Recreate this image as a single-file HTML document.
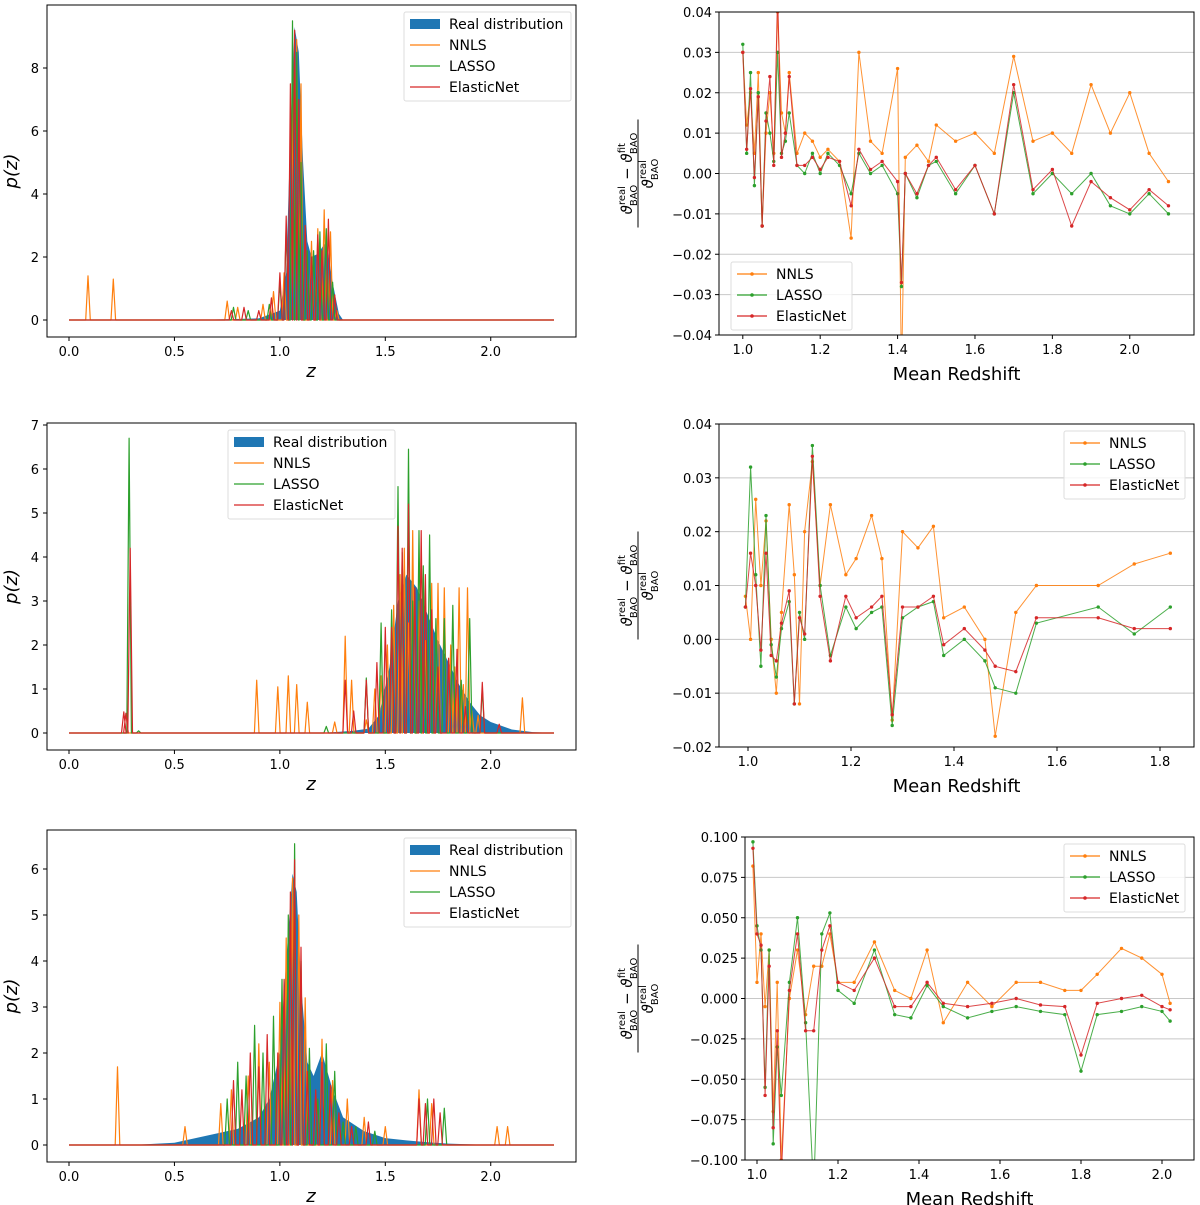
<!DOCTYPE html>
<html><head><meta charset="utf-8"><style>
html,body{margin:0;padding:0;background:#fff}
svg{display:block;font-family:"DejaVu Sans","Liberation Sans",sans-serif}
</style></head><body>
<svg id="fig" width="1200" height="1205" viewBox="0 0 1200 1205" xmlns="http://www.w3.org/2000/svg"></svg>
<script>
// ---------- data: left panels (redshift distributions) ----------
const realZ1 = [0,0.6,0.9,1.0,1.03,1.05,1.07,1.09,1.11,1.13,1.15,1.18,1.2,1.22,1.25,1.28,1.3,2.3];
const realP1 = [0,0,0.05,0.3,1.5,6,9.3,8.5,5,2.5,2.0,2.1,2.3,2.5,1.2,0.2,0,0];
const nnlsZ1 = [0.09,0.21,0.75,0.8,0.92,0.97,1.02,1.06,1.08,1.1,1.15,1.18,1.21,1.24,1.27];
const nnlsP1 = [1.4,1.3,0.6,0.4,0.5,0.9,1.5,7.0,8.9,7.5,2.5,2.9,3.5,2.8,0.3];
const lassoZ1 = [0.78,0.85,0.95,1.0,1.03,1.06,1.08,1.1,1.13,1.16,1.19,1.22,1.25];
const lassoP1 = [0.4,0.3,0.5,1.2,3.0,9.5,8.5,5.0,2.2,2.2,2.8,2.9,1.2];
const enetZ1 = [0.77,0.83,0.9,0.96,1.0,1.03,1.05,1.07,1.09,1.12,1.15,1.18,1.2,1.23,1.26];
const enetP1 = [0.3,0.4,0.3,0.7,1.5,3.3,7.5,9.2,7.0,3.0,2.0,2.7,2.2,3.2,0.8];

const realZ2 = [0,1.2,1.35,1.42,1.47,1.52,1.56,1.6,1.65,1.7,1.75,1.8,1.85,1.9,1.95,2.0,2.1,2.2,2.3];
const realP2 = [0,0,0.05,0.1,0.4,1.5,3.0,3.6,3.3,2.7,2.1,1.6,1.1,0.7,0.4,0.25,0.08,0.02,0];
const nnlsZ2 = [0.89,0.99,1.04,1.08,1.13,1.26,1.31,1.34,1.41,1.45,1.48,1.51,1.54,1.57,1.59,1.61,1.63,1.66,1.69,1.72,1.75,1.78,1.81,1.83,1.85,1.87,1.89,1.91,1.94,2.15];
const nnlsP2 = [1.2,1.05,1.3,1.1,0.7,0.25,2.2,1.2,0.3,1.0,1.3,2.0,2.9,3.6,4.2,2.5,4.6,3.0,2.1,3.4,3.4,3.3,2.0,1.5,3.3,1.1,3.3,0.5,0.4,0.8];
const lassoZ2 = [0.285,0.33,1.22,1.41,1.48,1.53,1.56,1.58,1.61,1.63,1.66,1.68,1.71,1.74,1.78,1.82,1.86,1.9,1.96];
const lassoP2 = [6.7,0.05,0.15,1.25,2.5,2.8,5.6,4.1,6.45,3.0,4.6,3.8,4.5,2.6,2.6,2.9,1.2,2.6,1.0];
const enetZ2 = [0.26,0.27,0.29,1.31,1.35,1.41,1.46,1.5,1.53,1.56,1.58,1.61,1.64,1.67,1.69,1.72,1.75,1.8,1.84,1.88,1.96,2.04];
const enetP2 = [0.48,0.45,4.2,1.2,0.5,1.2,1.6,2.4,2.4,4.7,4.2,5.2,3.3,4.6,3.6,2.8,1.5,1.7,1.9,0.6,1.15,0.2];

const realZ3 = [0,0.3,0.5,0.6,0.7,0.8,0.9,0.95,1.0,1.03,1.06,1.08,1.1,1.13,1.16,1.2,1.25,1.3,1.4,1.5,1.6,1.7,1.8,2.0,2.3];
const realP3 = [0,0,0.05,0.15,0.25,0.35,0.6,1.0,2.0,4.0,5.9,5.5,3.5,1.8,1.5,2.0,1.2,0.6,0.3,0.15,0.1,0.06,0.03,0,0];
const nnlsZ3 = [0.23,0.55,0.72,0.77,0.85,0.9,0.95,1.0,1.03,1.06,1.09,1.12,1.2,1.25,1.32,1.4,1.5,1.66,1.72,2.03,2.08];
const nnlsP3 = [1.7,0.4,0.9,1.2,1.5,2.2,1.8,3.1,4.5,5.8,5.0,3.2,2.3,1.4,1.0,0.6,0.4,1.2,0.9,0.4,0.4];
const lassoZ3 = [0.75,0.8,0.84,0.88,0.92,0.97,1.01,1.04,1.07,1.1,1.14,1.18,1.22,1.26,1.3,1.36,1.45,1.7,1.78];
const lassoP3 = [1.0,1.8,1.5,2.6,2.0,2.8,3.6,5.0,6.55,4.0,2.1,1.0,2.2,1.6,0.5,0.4,0.3,1.0,0.8];
const enetZ3 = [0.78,0.82,0.86,0.9,0.94,0.99,1.02,1.05,1.07,1.1,1.13,1.17,1.2,1.24,1.28,1.34,1.42,1.66,1.69,1.73,1.76];
const enetP3 = [1.4,1.2,2.0,1.7,2.4,2.0,3.6,5.5,6.2,4.3,1.6,1.2,1.8,1.3,0.7,0.4,0.5,1.0,0.9,1.0,0.7];

// ---------- data: right panels (BAO residuals) ----------
const redA = [1.00,1.01,1.02,1.03,1.04,1.05,1.06,1.07,1.08,1.09,1.10,1.11,1.12,1.14,1.16,1.18,1.20,1.22,1.25,1.28,1.30,1.33,1.36,1.40,1.41,1.42,1.45,1.48,1.50,1.55,1.60,1.65,1.70,1.75,1.80,1.85,1.90,1.95,2.00,2.05,2.10];
const nnlsA = [0.03,0.012,0.02,0.005,0.025,-0.013,0.01,0.02,0.005,0.04,0.015,0.01,0.025,0.005,0.01,0.008,0.004,0.006,0.003,-0.016,0.03,0.008,0.005,0.026,-0.05,0.004,0.007,0.003,0.012,0.008,0.01,0.005,0.029,0.008,0.01,0.005,0.022,0.01,0.02,0.005,-0.002];
const lassoA = [0.032,0.005,0.025,-0.003,0.02,-0.013,0.015,0.01,0.003,0.03,0.005,0.008,0.015,0.002,0.0,0.005,0.0,0.005,0.002,-0.005,0.005,0.0,0.002,-0.005,-0.028,0.0,-0.006,0.002,0.003,-0.005,0.002,-0.01,0.02,-0.005,0.0,-0.005,0.0,-0.008,-0.01,-0.005,-0.01];
const enetA = [0.03,0.006,0.021,-0.001,0.019,-0.013,0.013,0.024,0.002,0.045,0.004,0.01,0.024,0.002,0.002,0.004,0.001,0.004,0.003,-0.008,0.006,0.001,0.003,-0.002,-0.027,0.0,-0.005,0.002,0.004,-0.004,0.002,-0.01,0.022,-0.004,0.001,-0.013,-0.002,-0.006,-0.009,-0.004,-0.008];

const redB = [0.995,1.005,1.015,1.025,1.035,1.045,1.055,1.065,1.08,1.09,1.10,1.11,1.125,1.14,1.16,1.19,1.21,1.24,1.26,1.28,1.30,1.33,1.36,1.38,1.42,1.46,1.48,1.52,1.56,1.68,1.75,1.82];
const nnlsB = [0.008,0.0,0.026,0.01,0.022,0.0,-0.01,0.005,0.025,0.012,-0.012,0.02,0.033,0.01,0.025,0.012,0.015,0.023,0.015,-0.015,0.02,0.017,0.021,0.004,0.006,0.0,-0.018,0.005,0.01,0.01,0.014,0.016];
const lassoB = [0.006,0.032,0.012,-0.005,0.023,-0.001,-0.007,0.002,0.007,-0.012,0.005,0.0,0.036,0.01,-0.003,0.006,0.002,0.005,0.006,-0.016,0.004,0.006,0.007,-0.003,0.0,-0.004,-0.009,-0.01,0.003,0.006,0.001,0.006];
const enetB = [0.006,0.016,0.01,-0.002,0.016,-0.003,-0.004,0.003,0.009,-0.012,0.004,0.001,0.034,0.008,-0.004,0.008,0.004,0.006,0.008,-0.014,0.006,0.006,0.008,-0.001,0.002,-0.002,-0.005,-0.006,0.004,0.004,0.002,0.002];

const redC = [0.99,1.0,1.01,1.02,1.03,1.04,1.05,1.06,1.08,1.1,1.12,1.14,1.16,1.18,1.2,1.24,1.29,1.34,1.38,1.42,1.46,1.52,1.58,1.64,1.7,1.76,1.8,1.84,1.9,1.95,2.0,2.02];
const nnlsC = [0.082,0.01,0.04,-0.005,0.03,-0.07,0.01,-0.1,0.0,0.03,-0.01,0.02,0.02,0.04,0.01,0.01,0.035,0.005,0.0,0.03,-0.015,0.01,-0.005,0.01,0.01,0.005,0.005,0.015,0.031,0.025,0.015,-0.003];
const lassoC = [0.097,0.045,0.03,-0.055,0.03,-0.09,-0.03,-0.06,0.01,0.05,-0.015,-0.12,0.04,0.053,0.005,-0.003,0.03,-0.01,-0.012,0.008,-0.005,-0.012,-0.008,-0.005,-0.008,-0.01,-0.045,-0.01,-0.008,-0.005,-0.008,-0.014];
const enetC = [0.093,0.04,0.033,-0.06,0.02,-0.08,-0.02,-0.11,0.005,0.04,-0.02,-0.02,0.03,0.045,0.01,0.005,0.025,-0.005,-0.005,0.01,-0.003,-0.005,-0.003,0.0,-0.004,-0.005,-0.035,-0.003,0.0,0.002,-0.005,-0.007];

const zTicks = [0.0,0.5,1.0,1.5,2.0];
const zTickLabels = ["0.0","0.5","1.0","1.5","2.0"];

// ---------- rendering ----------
const NS = "http://www.w3.org/2000/svg";
const svg = document.getElementById('fig');
const C = {blue:"#1f77b4", orange:"#ff7f0e", green:"#2ca02c", red:"#d62728"};
function mk(parent, tag, attrs, name) {
  const el = document.createElementNS(NS, tag);
  for (const k in attrs) el.setAttribute(k, attrs[k]);
  
  
  parent.appendChild(el);
  return el;
}
function txt(parent, x, y, s, size, anchor, name, extra) {
  const t = mk(parent, 'text', Object.assign({x:x, y:y, 'font-size':size, 'text-anchor':anchor||'middle', fill:'#000'}, extra||{}), name);
  t.textContent = s;
  return t;
}
function scale(d0, d1, r0, r1) { return v => r0 + (v - d0) * (r1 - r0) / (d1 - d0); }

function spikesPath(zs, ps, sx, sy) {
  const hw = 0.011;
  let pts = [[0, 0]];
  for (let i = 0; i < zs.length; i++) {
    pts.push([zs[i] - hw, 0], [zs[i], ps[i]], [zs[i] + hw, 0]);
  }
  pts.push([2.3, 0]);
  return pts.map((p, i) => (i ? 'L' : 'M') + sx(p[0]).toFixed(1) + ',' + sy(p[1]).toFixed(1)).join('');
}

function legend(g, x, y, w, items, name) {
  const h = items.length * 21 + 5;
  mk(g, 'rect', {x:x, y:y, width:w, height:h, fill:'#fff', 'fill-opacity':0.8, stroke:'#ddd', 'stroke-width':1, rx:2}, name);
  items.forEach((it, i) => {
    const cy = y + 12 + i * 21;
    if (it.patch) mk(g, 'rect', {x:x + 6, y:cy - 5, width:30, height:10, fill:it.color}, 'legend-patch-' + it.key);
    else {
      mk(g, 'line', {x1:x + 6, x2:x + 36, y1:cy, y2:cy, stroke:it.color, 'stroke-width':1.3}, 'legend-line-' + it.key);
      if (it.marker) mk(g, 'circle', {cx:x + 21, cy:cy, r:1.8, fill:it.color}, 'legend-marker-' + it.key);
    }
    txt(g, x + 45, cy + 5, it.label, 14, 'start', 'legend-label-' + it.key);
  });
}

function leftPanel(idx, box, yMax, yTicks, realZ, realP, series, leg) {
  const g = mk(svg, 'g', {}, 'pz-panel-' + idx);
  const sx = scale(0, 2.3, 69, 554);
  const sy = scale(0, yMax, box.y0, box.y1);
  // real area
  let d = 'M' + sx(realZ[0]) + ',' + sy(0);
  realZ.forEach((z, i) => d += 'L' + sx(z).toFixed(1) + ',' + sy(realP[i]).toFixed(1));
  d += 'L' + sx(realZ[realZ.length - 1]) + ',' + sy(0) + 'Z';
  mk(g, 'path', {d:d, fill:C.blue}, 'real-distribution-area');
  series.forEach(s => {
    mk(g, 'path', {d:spikesPath(s.z, s.p, sx, sy), fill:'none', stroke:s.color, 'stroke-width':1.2, 'stroke-linejoin':'round'}, s.key + '-line');
  });
  mk(g, 'rect', {x:box.x0, y:box.top, width:box.x1 - box.x0, height:box.bottom - box.top, fill:'none', stroke:'#000', 'stroke-width':1}, 'axes-frame');
  zTicks.forEach((t, i) => {
    mk(g, 'line', {x1:sx(t), x2:sx(t), y1:box.bottom, y2:box.bottom + 4, stroke:'#000'}, 'x-tick');
    txt(g, sx(t), box.bottom + 19, zTickLabels[i], 13, 'middle', 'x-tick-label');
  });
  yTicks.forEach(t => {
    mk(g, 'line', {x1:box.x0 - 4, x2:box.x0, y1:sy(t), y2:sy(t), stroke:'#000'}, 'y-tick');
    txt(g, box.x0 - 8, sy(t) + 5, String(t), 13, 'end', 'y-tick-label');
  });
  txt(g, 311, box.bottom + 40, 'z', 18, 'middle', 'x-axis-title', {'font-style':'italic'});
  const yl = txt(g, 0, 0, 'p(z)', 18, 'middle', 'y-axis-title', {'font-style':'italic', transform:'translate(17,' + ((box.top + box.bottom) / 2) + ') rotate(-90)'});
  legend(g, leg.x, leg.y, 167, [
    {key:'real', label:'Real distribution', color:C.blue, patch:true},
    {key:'nnls', label:'NNLS', color:C.orange},
    {key:'lasso', label:'LASSO', color:C.green},
    {key:'elasticnet', label:'ElasticNet', color:C.red}], 'legend');
}

function ylabelFrac(g, x, cy) {
  const gg = mk(g, 'g', {transform:'translate(' + x + ',' + cy + ') rotate(-90)'}, 'y-axis-title');
  const num = mk(gg, 'text', {x:0, y:-6, 'font-size':15, 'text-anchor':'middle', 'font-style':'italic'}, 'y-title-numerator');
  num.innerHTML = 'ϑ<tspan font-size="10" dy="-7" font-style="normal">real</tspan><tspan font-size="10" dx="-20" dy="12" font-style="normal">BAO</tspan><tspan dy="-5"> − ϑ</tspan><tspan font-size="10" dy="-7" font-style="normal">fit</tspan><tspan font-size="10" dx="-11" dy="12" font-style="normal">BAO</tspan>';
  mk(gg, 'line', {x1:-54, x2:54, y1:0, y2:0, stroke:'#000', 'stroke-width':1}, 'y-title-fraction-bar');
  const den = mk(gg, 'text', {x:0, y:15, 'font-size':15, 'text-anchor':'middle', 'font-style':'italic'}, 'y-title-denominator');
  den.innerHTML = 'ϑ<tspan font-size="10" dy="-7" font-style="normal">real</tspan><tspan font-size="10" dx="-20" dy="12" font-style="normal">BAO</tspan>';
}

function rightPanel(idx, box, xd, yd, xTicks, yTicks, yFmt, xs, series, leg) {
  const g = mk(svg, 'g', {}, 'bao-panel-' + idx);
  const sx = scale(xd[0], xd[1], box.x0, box.x1);
  const sy = scale(yd[0], yd[1], box.bottom, box.top);
  yTicks.forEach(t => {
    mk(g, 'line', {x1:box.x0, x2:box.x1, y1:sy(t), y2:sy(t), stroke:'#c8c8c8', 'stroke-width':1}, 'grid-line');
  });
  const clip = mk(g, 'clipPath', {id:'clip' + idx}, 'clip');
  mk(clip, 'rect', {x:box.x0, y:box.top, width:box.x1 - box.x0, height:box.bottom - box.top}, 'clip-rect');
  const pg = mk(g, 'g', {'clip-path':'url(#clip' + idx + ')'}, 'plot-area');
  series.forEach(s => {
    const d = xs.map((x, i) => (i ? 'L' : 'M') + sx(x).toFixed(1) + ',' + sy(s.v[i]).toFixed(1)).join('');
    mk(pg, 'path', {d:d, fill:'none', stroke:s.color, 'stroke-width':1, 'stroke-opacity':0.85}, s.key + '-line');
    xs.forEach((x, i) => mk(pg, 'circle', {cx:sx(x), cy:sy(s.v[i]), r:1.7, fill:s.color}, s.key + '-point'));
  });
  mk(g, 'rect', {x:box.x0, y:box.top, width:box.x1 - box.x0, height:box.bottom - box.top, fill:'none', stroke:'#000', 'stroke-width':1}, 'axes-frame');
  xTicks.forEach(t => {
    mk(g, 'line', {x1:sx(t), x2:sx(t), y1:box.bottom, y2:box.bottom + 4, stroke:'#000'}, 'x-tick');
    txt(g, sx(t), box.bottom + 19, t.toFixed(1), 13, 'middle', 'x-tick-label');
  });
  yTicks.forEach(t => {
    mk(g, 'line', {x1:box.x0 - 4, x2:box.x0, y1:sy(t), y2:sy(t), stroke:'#000'}, 'y-tick');
    txt(g, box.x0 - 7, sy(t) + 5, (t < 0 ? '−' : '') + Math.abs(t).toFixed(yFmt), 13, 'end', 'y-tick-label');
  });
  txt(g, (box.x0 + box.x1) / 2, box.bottom + 45, 'Mean Redshift', 18, 'middle', 'x-axis-title');
  ylabelFrac(g, box.ylx, (box.top + box.bottom) / 2);
  legend(g, leg.x, leg.y, 121, [
    {key:'nnls', label:'NNLS', color:C.orange, marker:true},
    {key:'lasso', label:'LASSO', color:C.green, marker:true},
    {key:'elasticnet', label:'ElasticNet', color:C.red, marker:true}], 'legend');
}

leftPanel(1, {x0:47, x1:576, top:5, bottom:337, y0:320, y1:257 - (320 - 257) * 0 - 0 + 0}, 2, [0,2,4,6,8], realZ1, realP1,
  [{key:'nnls', z:nnlsZ1, p:nnlsP1, color:C.orange}, {key:'lasso', z:lassoZ1, p:lassoP1, color:C.green}, {key:'elasticnet', z:enetZ1, p:enetP1, color:C.red}],
  {x:404, y:12});
leftPanel(2, {x0:47, x1:576, top:423, bottom:750, y0:733, y1:645}, 2, [0,1,2,3,4,5,6,7], realZ2, realP2,
  [{key:'nnls', z:nnlsZ2, p:nnlsP2, color:C.orange}, {key:'lasso', z:lassoZ2, p:lassoP2, color:C.green}, {key:'elasticnet', z:enetZ2, p:enetP2, color:C.red}],
  {x:228, y:430});
leftPanel(3, {x0:47, x1:576, top:830, bottom:1162, y0:1145, y1:1053}, 2, [0,1,2,3,4,5,6], realZ3, realP3,
  [{key:'nnls', z:nnlsZ3, p:nnlsP3, color:C.orange}, {key:'lasso', z:lassoZ3, p:lassoP3, color:C.green}, {key:'elasticnet', z:enetZ3, p:enetP3, color:C.red}],
  {x:404, y:838});

rightPanel(1, {x0:719, x1:1194, top:12, bottom:335, ylx:638}, [0.9385, 2.166], [-0.04, 0.04], [1.0,1.2,1.4,1.6,1.8,2.0], [-0.04,-0.03,-0.02,-0.01,0,0.01,0.02,0.03,0.04], 2, redA,
  [{key:'nnls', v:nnlsA, color:C.orange}, {key:'lasso', v:lassoA, color:C.green}, {key:'elasticnet', v:enetA, color:C.red}], {x:731, y:262});
rightPanel(2, {x0:719, x1:1194, top:424, bottom:747, ylx:638}, [0.9437, 1.866], [-0.02, 0.04], [1.0,1.2,1.4,1.6,1.8], [-0.02,-0.01,0,0.01,0.02,0.03,0.04], 2, redB,
  [{key:'nnls', v:nnlsB, color:C.orange}, {key:'lasso', v:lassoB, color:C.green}, {key:'elasticnet', v:enetB, color:C.red}], {x:1064, y:431});
rightPanel(3, {x0:745, x1:1194, top:837, bottom:1160, ylx:638}, [0.9704, 2.079], [-0.1, 0.1], [1.0,1.2,1.4,1.6,1.8,2.0], [-0.1,-0.075,-0.05,-0.025,0,0.025,0.05,0.075,0.1], 3, redC,
  [{key:'nnls', v:nnlsC, color:C.orange}, {key:'lasso', v:lassoC, color:C.green}, {key:'elasticnet', v:enetC, color:C.red}], {x:1064, y:844});
</script>
</body></html>
